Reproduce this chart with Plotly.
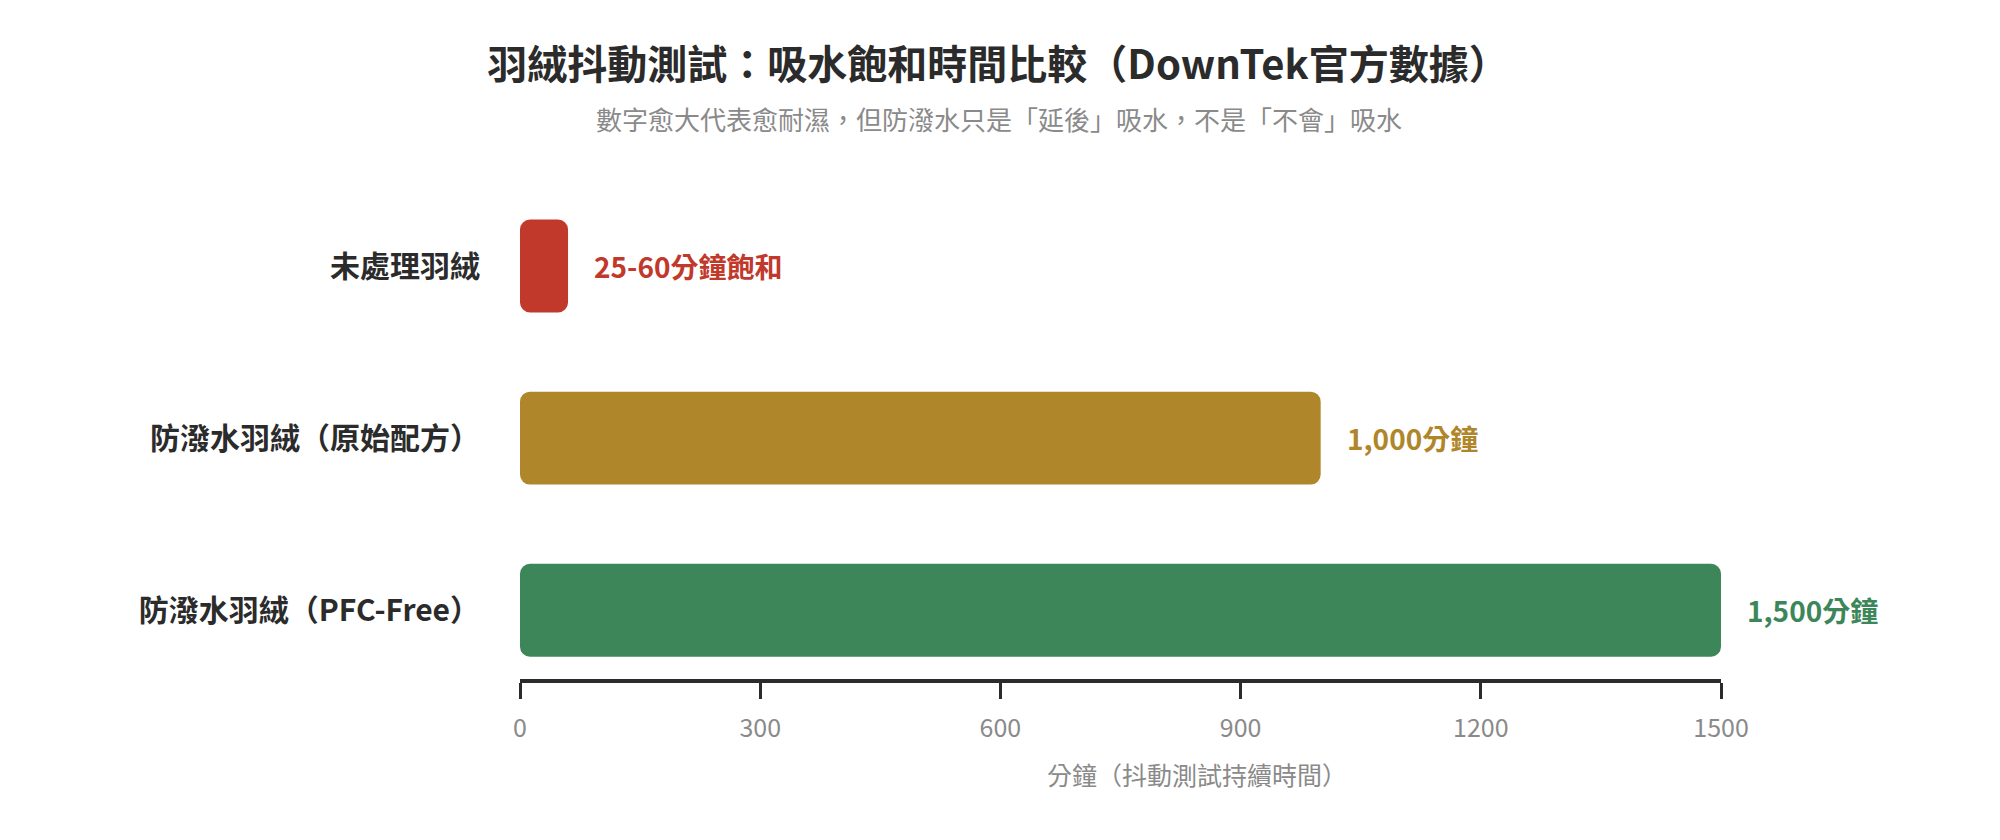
import plotly.graph_objects as go

# data
categories = ['未處理羽絨', '防潑水羽絨（原始配方）', '防潑水羽絨（PFC-Free）']
minutes = [60, 1000, 1500]
value_labels = ['25-60分鐘飽和', '1,000分鐘', '1,500分鐘']
bar_colors = ['#C0392B', '#B0862B', '#3D865A']
tick_values = [0, 300, 600, 900, 1200, 1500]

FONT = 'Noto Sans CJK TC'
W, H = 2000, 840
LEFT, RIGHT, TOP, BOTTOM = 512, 287, 172, 169
plot_w = W - LEFT - RIGHT
plot_h = H - TOP - BOTTOM

fig = go.Figure()
# an explicit base makes plotly round both ends of the bar
fig.add_trace(go.Bar(
    x=minutes, base=[0] * len(minutes), y=categories,
    orientation='h', width=0.54,
    marker=dict(color=bar_colors, line=dict(width=0)),
    hoverinfo='skip', showlegend=False,
))

# value labels to the right of each bar
annotations = []
for cat, val, lab, col in zip(categories, minutes, value_labels, bar_colors):
    annotations.append(dict(
        x=val, y=cat, xref='x', yref='y',
        text=lab, showarrow=False,
        xanchor='left', yanchor='middle', xshift=24,
        font=dict(family=FONT, size=28, color=col, weight='bold'),
    ))

# subtitle
annotations.append(dict(
    x=(991 - LEFT) / plot_w, y=(H - BOTTOM - 110) / plot_h,
    xref='paper', yref='paper',
    text='數字愈大代表愈耐濕，但防潑水只是「延後」吸水，不是「不會」吸水',
    showarrow=False, xanchor='center', yanchor='middle',
    font=dict(family=FONT, size=26, color='#8a8a8a'),
))

# x axis title (sits right of the plot centre in the original)
annotations.append(dict(
    x=(1189 - LEFT) / plot_w, y=(H - BOTTOM - 766) / plot_h,
    xref='paper', yref='paper',
    text='分鐘（抖動測試持續時間）',
    showarrow=False, xanchor='center', yanchor='middle',
    font=dict(family=FONT, size=25, color='#8a8a8a'),
))

fig.update_layout(
    width=W, height=H,
    paper_bgcolor='white', plot_bgcolor='white',
    margin=dict(l=LEFT, r=RIGHT, t=TOP, b=BOTTOM),
    title=dict(
        text='羽絨抖動測試：吸水飽和時間比較（DownTek官方數據）',
        x=0.495, xref='container', xanchor='center',
        y=1 - 57 / H, yref='container', yanchor='middle',
        font=dict(family=FONT, size=40, color='#2b2b2b', weight='bold'),
    ),
    barcornerradius=10,
    annotations=annotations,
    font=dict(family=FONT),
)

fig.update_xaxes(
    range=[0, 1500],
    tickvals=tick_values,
    ticktext=[str(v) for v in tick_values],
    showgrid=False, zeroline=False,
    showline=True, linecolor='#2b2b2b', linewidth=4,
    ticks='outside', ticklen=16, tickwidth=3, tickcolor='#2b2b2b',
    ticklabelstandoff=8,
    tickfont=dict(family=FONT, size=25, color='#8a8a8a'),
)

fig.update_yaxes(
    type='category',
    categoryorder='array', categoryarray=categories,
    range=[2.4, -0.5],
    showgrid=False, zeroline=False, showline=False,
    ticks='', ticklabelstandoff=39,
    tickfont=dict(family=FONT, size=30, color='#2b2b2b', weight='bold'),
)

fig.write_html('out.html')
